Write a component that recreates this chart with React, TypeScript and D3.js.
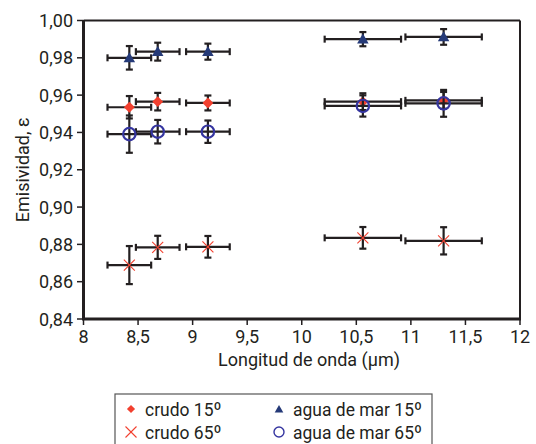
import React from "react";
import * as d3 from "d3";

// wavelengths (µm) and horizontal half-widths
const wavelengths = [8.42, 8.68, 9.14, 10.56, 11.3];
const xErr = [0.2, 0.2, 0.2, 0.35, 0.35];

// emissivity values per series, with vertical half-widths
const crudo15 = [0.9535, 0.9565, 0.9558, 0.9565, 0.9572];
const crudo15Err = [0.006, 0.0047, 0.004, 0.0045, 0.0045];
const crudo65 = [0.8689, 0.8784, 0.8787, 0.8835, 0.8819];
const crudo65Err = [0.0102, 0.0062, 0.0058, 0.0058, 0.0073];
const mar15 = [0.98, 0.9833, 0.9833, 0.99, 0.9912];
const mar15Err = [0.0063, 0.0048, 0.0043, 0.0038, 0.0042];
const mar65 = [0.9391, 0.9404, 0.9404, 0.9542, 0.9556];
const mar65Err = [0.01, 0.0063, 0.006, 0.0057, 0.0072];

const xTicks = [8, 8.5, 9, 9.5, 10, 10.5, 11, 11.5, 12];
const yTicks = [0.84, 0.86, 0.88, 0.9, 0.92, 0.94, 0.96, 0.98, 1.0];

const legendItems: { label: string; kind: Kind }[] = [
  { label: "crudo 15º", kind: "diamond" },
  { label: "crudo 65º", kind: "cross" },
  { label: "agua de mar 15º", kind: "triangle" },
  { label: "agua de mar 65º", kind: "circle" },
];

const FONT = 'Roboto, "Liberation Sans", sans-serif';
const INK = "#231f20";

const x = d3.scaleLinear().domain([8, 12]).range([83.5, 520]);
const y = d3.scaleLinear().domain([0.84, 1.0]).range([319, 20.5]);
const fmt = (v: number, digits: number) => v.toFixed(digits).replace(".", ",");

type Kind = "diamond" | "cross" | "triangle" | "circle";

const Marker = ({ kind, cx, cy, small }: { kind: Kind; cx: number; cy: number; small?: boolean }) => {
  const k = small ? 0.75 : 1;
  if (kind === "diamond") {
    const p = d3.symbol(d3.symbolDiamond2, 75 * k * k)();
    return <path d={p || ""} transform={`translate(${cx},${cy})`} fill="#f2402f" />;
  }
  if (kind === "triangle") {
    const p = d3.symbol(d3.symbolTriangle2, 95 * k * k)();
    return <path d={p || ""} transform={`translate(${cx},${cy + 1})`} fill="#253a78" />;
  }
  if (kind === "circle") {
    return (
      <circle cx={cx} cy={cy} r={small ? 5 : 6.2} fill="none" stroke="#3535a0" strokeWidth={small ? 1.4 : 2.2} />
    );
  }
  const s = 5.5;
  return (
    <g stroke="#f2402f" strokeWidth={1.1}>
      <line x1={cx - s} y1={cy - s} x2={cx + s} y2={cy + s} />
      <line x1={cx - s} y1={cy + s} x2={cx + s} y2={cy - s} />
    </g>
  );
};

const Series = ({ values, errs, kind }: { values: number[]; errs: number[]; kind: Kind }) => (
  <g>
    {values.map((v, i) => {
      const cx = x(wavelengths[i]);
      const cy = y(v);
      const x0 = x(wavelengths[i] - xErr[i]);
      const x1 = x(wavelengths[i] + xErr[i]);
      const y0 = y(v + errs[i]);
      const y1 = y(v - errs[i]);
      return (
        <g key={i} stroke={INK} strokeWidth={2.2}>
          <line x1={x0} x2={x1} y1={cy} y2={cy} />
          <line x1={x0} x2={x0} y1={cy - 3.5} y2={cy + 3.5} />
          <line x1={x1} x2={x1} y1={cy - 3.5} y2={cy + 3.5} />
          <line x1={cx} x2={cx} y1={y0} y2={y1} />
          <line x1={cx - 3.5} x2={cx + 3.5} y1={y0} y2={y0} />
          <line x1={cx - 3.5} x2={cx + 3.5} y1={y1} y2={y1} />
        </g>
      );
    })}
    {values.map((v, i) => (
      <Marker key={"m" + i} kind={kind} cx={x(wavelengths[i])} cy={y(v)} />
    ))}
  </g>
);

const App = () => {
  return (
    <svg
      width={536}
      height={444}
      style={{ position: "absolute", left: 0, top: 0, background: "#fff" }}
      fontFamily={FONT}
    >
      {/* frame */}
      <line x1={520} x2={520} y1={20.5} y2={319} stroke={INK} strokeWidth={2} />
      <line x1={83.5} x2={520} y1={20.5} y2={20.5} stroke={INK} strokeWidth={2} />
      <line x1={83.5} x2={83.5} y1={20} y2={320} stroke={INK} strokeWidth={3} />
      <line x1={82} x2={521} y1={319} y2={319} stroke={INK} strokeWidth={3} />

      {/* y axis */}
      {yTicks.map((t) => (
        <g key={t}>
          <line x1={77} x2={83} y1={y(t)} y2={y(t)} stroke={INK} strokeWidth={1.5} />
          <text x={73} y={y(t) + 6.5} textAnchor="end" fontSize={18} fill={INK}>
            {fmt(t, 2)}
          </text>
        </g>
      ))}
      <text
        transform={`translate(29,${y(0.92)}) rotate(-90)`}
        textAnchor="middle"
        fontSize={18}
        fill={INK}
      >
        Emisividad, ε
      </text>

      {/* x axis */}
      {xTicks.map((t) => (
        <g key={t}>
          <line x1={x(t)} x2={x(t)} y1={319} y2={325} stroke={INK} strokeWidth={1.5} />
          <text x={x(t)} y={343} textAnchor="middle" fontSize={18} fill={INK}>
            {Number.isInteger(t) ? String(t) : fmt(t, 1)}
          </text>
        </g>
      ))}
      <text x={309} y={366} textAnchor="middle" fontSize={18} fill={INK}>
        Longitud de onda (µm)
      </text>

      {/* data */}
      <Series values={mar15} errs={mar15Err} kind="triangle" />
      <Series values={crudo15} errs={crudo15Err} kind="diamond" />
      <Series values={mar65} errs={mar65Err} kind="circle" />
      <Series values={crudo65} errs={crudo65Err} kind="cross" />

      {/* legend */}
      <rect x={115} y={394} width={317} height={52} fill="#fff" stroke="#555" strokeWidth={1.2} />
      {legendItems.map((d, i) => {
        const lx = i < 2 ? 131 : 279;
        const ly = i % 2 === 0 ? 409 : 432;
        return (
          <g key={d.label}>
            <Marker kind={d.kind} cx={lx} cy={ly} small />
            <text
              transform={`translate(${lx + 14},${ly + 7}) scale(0.92,1)`}
              fontSize={19}
              fill={INK}
            >
              {d.label}
            </text>
          </g>
        );
      })}
    </svg>
  );
};

export default App;
